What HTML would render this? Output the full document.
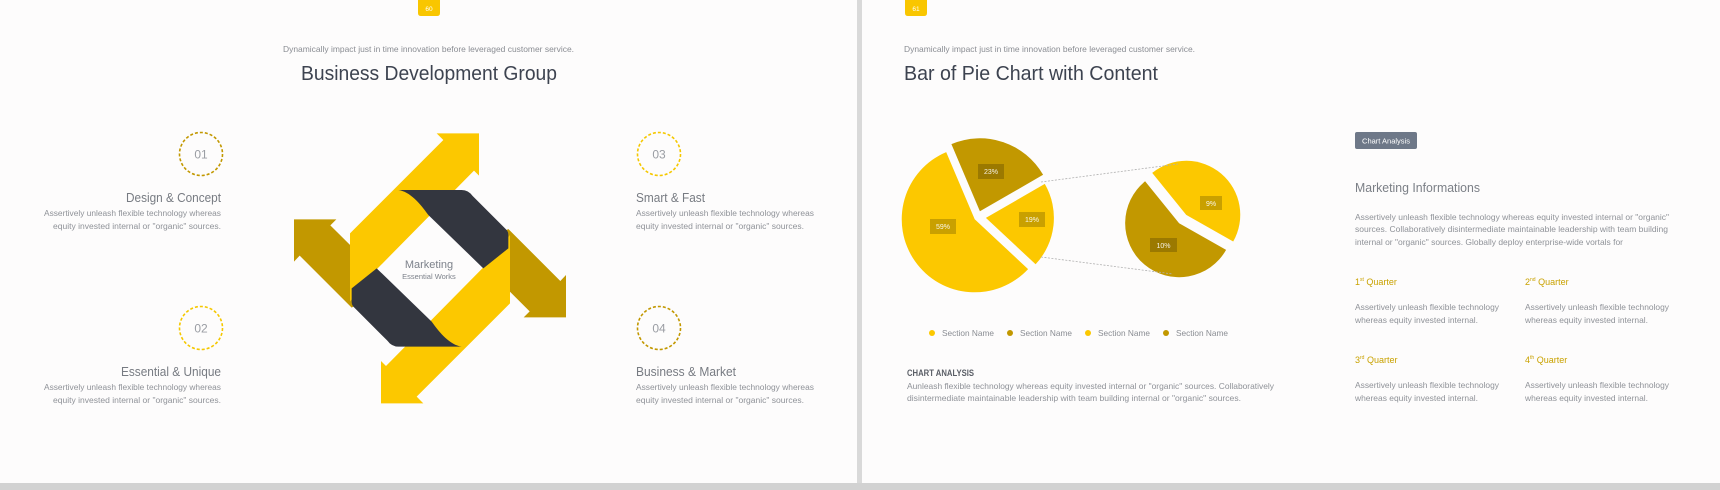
<!DOCTYPE html>
<html><head><meta charset="utf-8"><style>
html,body{margin:0;padding:0;background:#fdfcfc;}
svg{display:block;}
text{font-family:"Liberation Sans",sans-serif;}
</style></head><body>
<svg width="1720" height="490" viewBox="0 0 1720 490" xmlns="http://www.w3.org/2000/svg">
<rect x="0" y="0" width="1720" height="490" fill="#fdfcfc"/>
<rect x="857" y="0" width="5" height="490" fill="#d9d9d9"/>
<rect x="0" y="483" width="1720" height="7" fill="#d2d2d2"/>

<!-- LEFT SLIDE -->
<path d="M418,0 H440 V13 Q440,16 437,16 H421 Q418,16 418,13 Z" fill="#f9c600"/>
<text x="429" y="11" font-size="6.5" fill="#fff" text-anchor="middle">60</text>
<text x="283" y="52" font-size="8.5" fill="#8a8d93" textLength="291" lengthAdjust="spacingAndGlyphs">Dynamically impact just in time innovation  before leveraged customer service.</text>
<text x="301" y="80" font-size="20" fill="#3d4350" textLength="256" lengthAdjust="spacingAndGlyphs">Business Development Group</text>

<g fill="none" stroke-width="1.6" stroke-dasharray="3,2">
<circle cx="201" cy="154" r="21.5" stroke="#c29800"/>
<circle cx="201" cy="328" r="21.5" stroke="#f5c800"/>
<circle cx="659" cy="154" r="21.5" stroke="#f5c800"/>
<circle cx="659" cy="328" r="21.5" stroke="#c29800"/>
</g>
<g font-size="12" fill="#9a9da3" text-anchor="middle">
<text x="201" y="158.5">01</text><text x="201" y="332.5">02</text>
<text x="659" y="158.5">03</text><text x="659" y="332.5">04</text>
</g>

<g fill="#777b82">
<text x="126" y="202" font-size="12.5" textLength="95" lengthAdjust="spacingAndGlyphs">Design &amp; Concept</text>
<text x="121" y="376" font-size="12.5" textLength="100" lengthAdjust="spacingAndGlyphs">Essential &amp; Unique</text>
<text x="636" y="202" font-size="12.5" textLength="69" lengthAdjust="spacingAndGlyphs">Smart &amp; Fast</text>
<text x="636" y="376" font-size="12.5" textLength="100" lengthAdjust="spacingAndGlyphs">Business &amp; Market</text>
</g>
<g fill="#8f9298" font-size="8">
<text x="44" y="216" textLength="177" lengthAdjust="spacingAndGlyphs">Assertively unleash flexible technology whereas</text>
<text x="53" y="229" textLength="168" lengthAdjust="spacingAndGlyphs">equity invested internal or "organic" sources.</text>
<text x="44" y="390" textLength="177" lengthAdjust="spacingAndGlyphs">Assertively unleash flexible technology whereas</text>
<text x="53" y="403" textLength="168" lengthAdjust="spacingAndGlyphs">equity invested internal or "organic" sources.</text>
<text x="636" y="216" textLength="178" lengthAdjust="spacingAndGlyphs">Assertively unleash flexible technology whereas</text>
<text x="636" y="229" textLength="168" lengthAdjust="spacingAndGlyphs">equity invested internal or "organic" sources.</text>
<text x="636" y="390" textLength="178" lengthAdjust="spacingAndGlyphs">Assertively unleash flexible technology whereas</text>
<text x="636" y="403" textLength="168" lengthAdjust="spacingAndGlyphs">equity invested internal or "organic" sources.</text>
</g>

<!-- diagram -->
<g transform="translate(280,120) scale(0.33333)">
  <g id="goldArrow">
    <polygon points="42,298 169,298 151,316 330,494 215,563 59,407 42,425" fill="#c29800"/>
  </g>
  <polygon points="42,298 169,298 151,316 330,494 215,563 59,407 42,425" fill="#c29800" transform="rotate(180 450 445)"/>
  <polygon points="210,545 210,340 490,60 470,40 597,40 597,167 582,152 290,448" fill="#fcc800"/>
  <polygon points="210,545 210,340 490,60 470,40 597,40 597,167 582,152 290,448" fill="#fcc800" transform="rotate(180 450 445)"/>
  <path d="M355,210 L545,210 Q565,210 578,228 L680,330 Q685,336 685,345 L685,385 L610,445 L445,285 C420,250 390,215 355,210 Z" fill="#33363f"/>
  <path d="M355,210 L545,210 Q565,210 578,228 L680,330 Q685,336 685,345 L685,385 L610,445 L445,285 C420,250 390,215 355,210 Z" fill="#33363f" transform="rotate(180 450 445)"/>
</g>
<text x="429" y="268" font-size="11" fill="#7d828b" text-anchor="middle">Marketing</text>
<text x="429" y="279" font-size="7.5" fill="#7d828b" text-anchor="middle">Essential Works</text>

<!-- RIGHT SLIDE -->
<path d="M905,0 H927 V13 Q927,16 924,16 H908 Q905,16 905,13 Z" fill="#f9c600"/>
<text x="916" y="11" font-size="6.5" fill="#fff" text-anchor="middle">61</text>
<text x="904" y="52" font-size="8.5" fill="#8a8d93" textLength="291" lengthAdjust="spacingAndGlyphs">Dynamically impact just in time innovation  before leveraged customer service.</text>
<text x="904" y="80" font-size="20" fill="#3d4350" textLength="254" lengthAdjust="spacingAndGlyphs">Bar of Pie Chart with Content</text>

<!-- big pie -->
<path d="M974.7,219.3 L1028.1,269.1 A73,73 0 1 1 946.2,152.1 Z" fill="#fcc800"/>
<path d="M979.9,211.3 L951.4,144.1 A73,73 0 0 1 1043.1,174.8 Z" fill="#c29800"/>
<path d="M985.9,217.9 L1044.8,183.9 A68,68 0 0 1 1035.6,264.3 Z" fill="#fcc800"/>
<!-- small pie -->
<path d="M1179.1,223.3 L1226.1,249.9 A54,54 0 1 1 1145.1,181.3 Z" fill="#c29800"/>
<path d="M1186.2,214.9 L1152.2,172.9 A54,54 0 0 1 1233.2,241.5 Z" fill="#fcc800"/>
<g stroke="#b0b0b0" stroke-width="0.8" stroke-dasharray="2,1.5">
<line x1="1041" y1="182" x2="1178" y2="164"/>
<line x1="1041" y1="257" x2="1173" y2="274"/>
</g>
<g fill="rgba(0,0,0,0.2)">
<rect x="978" y="164" width="26" height="15"/>
<rect x="930" y="219" width="26" height="15"/>
<rect x="1019" y="212" width="26" height="15"/>
<rect x="1200" y="196" width="22" height="14"/>
<rect x="1150" y="238" width="27" height="14"/>
</g>
<g fill="#fff" font-size="7" text-anchor="middle" fill-opacity="0.9">
<text x="991" y="174">23%</text><text x="943" y="229">59%</text><text x="1032" y="222">19%</text>
<text x="1211" y="206">9%</text><text x="1163.5" y="248">10%</text>
</g>

<g font-size="8.5" fill="#8a8d93">
<circle cx="932" cy="333" r="3" fill="#fcc800"/><text x="942" y="336" textLength="52" lengthAdjust="spacingAndGlyphs">Section Name</text>
<circle cx="1010" cy="333" r="3" fill="#c29800"/><text x="1020" y="336" textLength="52" lengthAdjust="spacingAndGlyphs">Section Name</text>
<circle cx="1088" cy="333" r="3" fill="#fcc800"/><text x="1098" y="336" textLength="52" lengthAdjust="spacingAndGlyphs">Section Name</text>
<circle cx="1166" cy="333" r="3" fill="#c29800"/><text x="1176" y="336" textLength="52" lengthAdjust="spacingAndGlyphs">Section Name</text>
</g>

<text x="907" y="376" font-size="9" font-weight="bold" fill="#5a5e66" textLength="67" lengthAdjust="spacingAndGlyphs">CHART ANALYSIS</text>
<g font-size="8.3" fill="#8f9298">
<text x="907" y="389" textLength="367" lengthAdjust="spacingAndGlyphs">Aunleash flexible technology whereas equity invested internal or "organic" sources. Collaboratively</text>
<text x="907" y="401" textLength="334" lengthAdjust="spacingAndGlyphs">disintermediate maintainable leadership with team building internal or "organic" sources.</text>
</g>

<rect x="1355" y="132" width="62" height="17" rx="2" fill="#6e7888"/>
<text x="1386" y="143.5" font-size="7.5" fill="#fff" text-anchor="middle">Chart Analysis</text>
<text x="1355" y="192" font-size="13" fill="#7b7f86" textLength="125" lengthAdjust="spacingAndGlyphs">Marketing Informations</text>
<g font-size="8.3" fill="#8f9298">
<text x="1355" y="220" textLength="314" lengthAdjust="spacingAndGlyphs">Assertively unleash flexible technology whereas equity invested internal or "organic"</text>
<text x="1355" y="232" textLength="313" lengthAdjust="spacingAndGlyphs">sources. Collaboratively disintermediate maintainable leadership with team building</text>
<text x="1355" y="245" textLength="268" lengthAdjust="spacingAndGlyphs">internal or "organic" sources. Globally deploy enterprise-wide vortals for</text>
</g>
<g font-size="9" fill="#c9a200">
<text x="1355" y="285">1<tspan font-size="5" dy="-4">st</tspan><tspan dy="4"> Quarter</tspan></text>
<text x="1525" y="285">2<tspan font-size="5" dy="-4">nd</tspan><tspan dy="4">  Quarter</tspan></text>
<text x="1355" y="363">3<tspan font-size="5" dy="-4">rd</tspan><tspan dy="4">  Quarter</tspan></text>
<text x="1525" y="363">4<tspan font-size="5" dy="-4">th</tspan><tspan dy="4">  Quarter</tspan></text>
</g>
<g font-size="8.3" fill="#8f9298">
<text x="1355" y="310" textLength="144" lengthAdjust="spacingAndGlyphs">Assertively unleash flexible technology</text>
<text x="1355" y="323" textLength="123" lengthAdjust="spacingAndGlyphs">whereas equity invested internal.</text>
<text x="1525" y="310" textLength="144" lengthAdjust="spacingAndGlyphs">Assertively unleash flexible technology</text>
<text x="1525" y="323" textLength="123" lengthAdjust="spacingAndGlyphs">whereas equity invested internal.</text>
<text x="1355" y="388" textLength="144" lengthAdjust="spacingAndGlyphs">Assertively unleash flexible technology</text>
<text x="1355" y="401" textLength="123" lengthAdjust="spacingAndGlyphs">whereas equity invested internal.</text>
<text x="1525" y="388" textLength="144" lengthAdjust="spacingAndGlyphs">Assertively unleash flexible technology</text>
<text x="1525" y="401" textLength="123" lengthAdjust="spacingAndGlyphs">whereas equity invested internal.</text>
</g>
</svg>
</body></html>
